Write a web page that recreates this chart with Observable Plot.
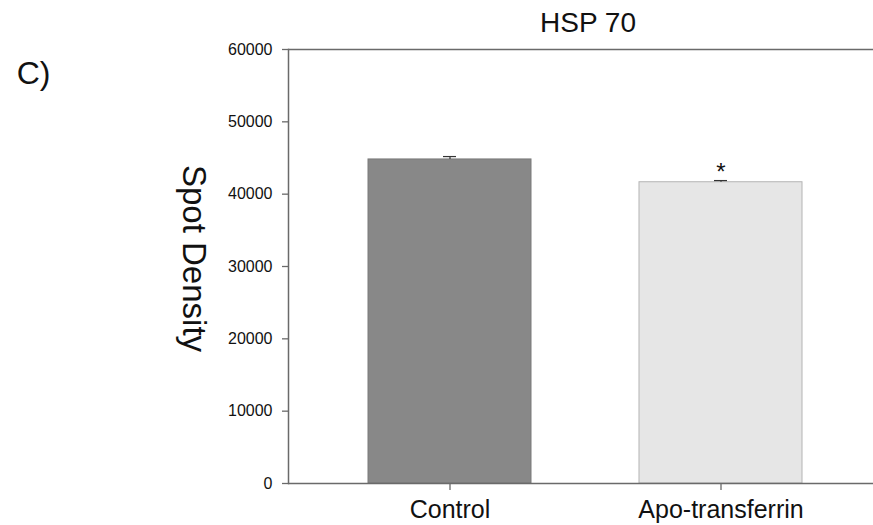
<!DOCTYPE html>
<html>
<head>
<meta charset="utf-8">
<script src="https://cdn.jsdelivr.net/npm/d3@7"></script>
<script src="https://cdn.jsdelivr.net/npm/@observablehq/plot@0.6"></script>
<style>
  html, body { margin: 0; padding: 0; background: #fff; }
  #chart svg { font-family: "Liberation Sans", Arial, sans-serif; }
</style>
</head>
<body>
<div id="chart"></div>
<script>
const categories = ["Control", "Apo-transferrin"];
const means = [44800, 41650];
const errors = [400, 230];
const significance = ["", "*"];
const yTicks = [0, 10000, 20000, 30000, 40000, 50000, 60000];
const barFills = ["#888888", "#e6e6e6"];
const barStrokes = ["#7a7a7a", "#b4b4b4"];
const title = "HSP 70";
const panelLabel = "C)";
const yLabel = "Spot Density";

const data = categories.map((c, i) => ({
  category: c, mean: means[i], err: errors[i], top: means[i] + errors[i],
  sig: significance[i], fill: barFills[i], stroke: barStrokes[i]
}));

const axisColor = "#6a6a6a";

const chart = Plot.plot({
  width: 873,
  height: 525,
  marginLeft: 288,
  marginRight: 0,
  marginTop: 49,
  marginBottom: 42,
  style: { fontFamily: "'Liberation Sans', Arial, sans-serif", background: "#fff", color: "#111" },
  x: { domain: categories, range: [314, 856], paddingInner: 0.4, paddingOuter: 0.2, label: null },
  y: { domain: [0, 60000], label: null },
  marks: [
    Plot.barY(data, { x: "category", y: "mean", fill: "fill", stroke: "stroke", strokeWidth: 1 }),
    Plot.ruleX(data, { x: "category", y1: "mean", y2: "top", stroke: "#333", strokeWidth: 1.2 }),
    Plot.tickY(data, { x: "category", y: "top", stroke: "#333", strokeWidth: 1.2, insetLeft: 75, insetRight: 75 }),
    Plot.text(data, { x: "category", y: "top", text: "sig", fontSize: 24, lineAnchor: "bottom", dy: -1, fill: "#111" }),
    Plot.ruleY([0], { stroke: axisColor, strokeWidth: 1.5 }),
    Plot.ruleY([60000], { stroke: axisColor, strokeWidth: 1.5 }),
    Plot.frame({ anchor: "left", stroke: axisColor, strokeWidth: 1.5 }),
    Plot.axisY({ ticks: yTicks, tickFormat: d => String(d), tickSize: 6, tickPadding: 10, fontSize: 16, stroke: axisColor, strokeWidth: 1.3, fill: "#111", label: null }),
    Plot.axisX({ tickSize: 7, tickPadding: 10, fontSize: 25, stroke: axisColor, strokeWidth: 1.3, fill: "#111", label: null }),
    Plot.text([title], { frameAnchor: "top", dx: 7, dy: -26, fontSize: 28, lineAnchor: "middle", fill: "#111" }),
    Plot.text([panelLabel], { frameAnchor: "top-left", dx: -255, dy: 24, fontSize: 32, lineAnchor: "middle", textAnchor: "middle", fill: "#111" }),
    Plot.text([yLabel], { frameAnchor: "left", dx: -95, dy: -8, rotate: 90, fontSize: 33, lineAnchor: "middle", textAnchor: "middle", fill: "#111" })
  ]
});
document.getElementById("chart").appendChild(chart);
</script>
</body>
</html>
